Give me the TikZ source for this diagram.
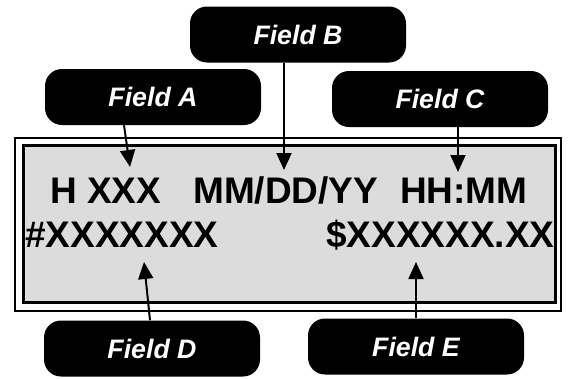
\documentclass[tikz,border=0pt]{standalone}
\usepackage{fontspec}
\setmainfont{Liberation Sans}
\usetikzlibrary{arrows.meta}
\definecolor{lcdgray}{RGB}{220,220,220}
\begin{document}
\begin{tikzpicture}[x=1pt,y=-1pt,
  field/.style={fill=black, rounded corners=17pt, minimum width=216pt, minimum height=56pt,
    inner sep=0pt, text=white, font=\fontsize{26.7}{30}\selectfont\bfseries\itshape},
  lcd/.style={inner sep=0pt, anchor=base west, font=\fontsize{37}{40}\selectfont\bfseries},
  conn/.style={line width=2pt, -{Triangle[length=17pt,width=15pt]}}]
\useasboundingbox (0,0) rectangle (568,378);
% display panel
\draw[line width=2pt] (15,138) rectangle (561,311);
\draw[line width=3pt, fill=lcdgray] (23,145) rectangle (555,302);
% display texts
\node[lcd] (hxxx) at (50,203) {H XXX};
\node[lcd] (date) at (193,203) {MM/DD/YY};
\node[lcd] (time) at (400,203) {HH:MM};
\node[lcd] (num) at (25,247) {\#XXXXXXX};
\node[lcd] (amt) at (326,247) {\$XXXXXX.XX};
% field labels
\node[field] (A) at (153,97) {Field A};
\node[field] (B) at (298,34.5) {Field B};
\node[field] (C) at (440,99) {Field C};
\node[field] (D) at (152,348.5) {Field D};
\node[field] (E) at (416,346.5) {Field E};
% arrow tips
\coordinate (tA) at (130,167);
\coordinate (tB) at (284,170);
\coordinate (tC) at (458,172);
\coordinate (tD) at (144,262);
\coordinate (tE) at (416,262);
% connectors
\draw[conn] ([xshift=-29pt]A.south) -- (tA);
\draw[conn] ([xshift=-14pt]B.south) -- (tB);
\draw[conn] ([xshift=18pt]C.south) -- (tC);
\draw[conn] ([xshift=-2pt]D.north) -- (tD);
\draw[conn] (E.north) -- (tE);
\end{tikzpicture}
\end{document}
